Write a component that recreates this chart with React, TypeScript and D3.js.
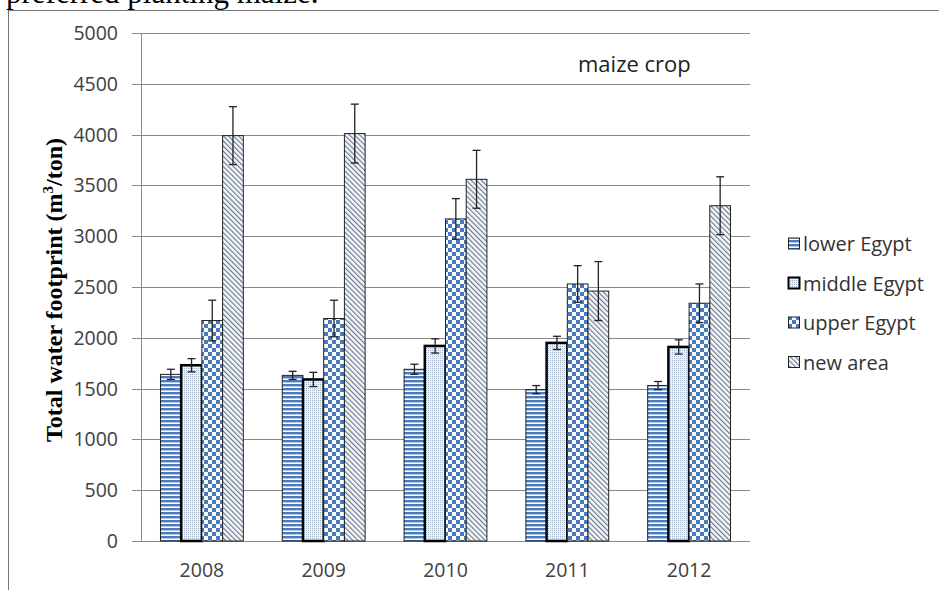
import React from 'react';
import * as d3 from 'd3';

const years = ['2008', '2009', '2010', '2011', '2012'];
const seriesNames = ['lower Egypt', 'middle Egypt', 'upper Egypt', 'new area'];
const lowerEgypt = [1640, 1630, 1690, 1490, 1530];
const lowerErr = [50, 40, 50, 40, 40];
const middleEgypt = [1730, 1590, 1920, 1950, 1910];
const middleErr = [65, 70, 70, 65, 70];
const upperEgypt = [2170, 2190, 3170, 2530, 2340];
const upperErr = [200, 180, 200, 180, 190];
const newArea = [3990, 4010, 3560, 2460, 3300];
const newErr = [285, 290, 285, 290, 285];
const yTicks = [0, 500, 1000, 1500, 2000, 2500, 3000, 3500, 4000, 4500, 5000];

const seriesValues = [lowerEgypt, middleEgypt, upperEgypt, newArea];
const seriesErrors = [lowerErr, middleErr, upperErr, newErr];
const fills = ['url(#pLower)', 'url(#pMiddle)', 'url(#pUpper)', 'url(#pNew)'];
const strokeW = [1, 2.5, 1, 1];
const strokeC = ['#222', '#000', '#222', '#222'];

const W = 939;
const H = 590;
const left = 141;
const right = 750;
const top = 33;
const bottom = 541;

export default function App() {
  const y = d3.scaleLinear().domain([0, 5000]).range([bottom, top]);
  const x0 = d3.scaleBand().domain(years).range([left, right]).paddingInner(0.32).paddingOuter(0.16);
  const x1 = d3.scaleBand().domain(seriesNames).range([0, x0.bandwidth()]);
  const sans = '"Open Sans", sans-serif';
  const legendY = (i: number) => 244 + i * 39.5;

  return (
    <svg width={W} height={H} style={{ position: 'absolute', left: 0, top: 0, background: '#fff' }}>
      <defs>
        <pattern id="pLower" width="4" height="4" patternUnits="userSpaceOnUse">
          <rect width="4" height="4" fill="#fff" />
          <rect width="4" height="2.4" fill="#4a7bbd" />
        </pattern>
        <pattern id="pMiddle" width="2" height="2" patternUnits="userSpaceOnUse">
          <rect width="2" height="2" fill="#eef2f6" />
          <rect width="1" height="1" fill="#a9b9cb" />
        </pattern>
        <pattern id="pUpper" width="8" height="8" patternUnits="userSpaceOnUse">
          <rect width="8" height="8" fill="#fff" />
          <rect width="4" height="4" fill="#4a7bbd" />
          <rect x="4" y="4" width="4" height="4" fill="#4a7bbd" />
        </pattern>
        <pattern id="pNew" width="3.6" height="3.6" patternUnits="userSpaceOnUse" patternTransform="rotate(-45)">
          <rect width="3.6" height="3.6" fill="#f3f6fb" />
          <line x1="0.6" y1="0" x2="0.6" y2="3.6" stroke="#4a5a70" strokeWidth="0.9" />
        </pattern>
      </defs>

      {/* cropped caption from the source page */}
      <text x={6} y={3} fontFamily='"Liberation Serif", serif' fontSize={31} fill="#000">preferred planting maize.</text>
      {/* frame */}
      <line x1={8} y1={10.5} x2={W} y2={10.5} stroke="#777" strokeWidth={1} />
      <line x1={8.5} y1={10} x2={8.5} y2={H} stroke="#777" strokeWidth={1} />

      {/* gridlines */}
      {yTicks.map((t) => (
        <line key={t} x1={left - 9} x2={right} y1={Math.round(y(t)) + 0.5} y2={Math.round(y(t)) + 0.5} stroke="#8a8a8a" strokeWidth={1} />
      ))}
      <line x1={left + 0.5} x2={left + 0.5} y1={top} y2={bottom} stroke="#8a8a8a" strokeWidth={1} />

      {/* y tick labels */}
      {yTicks.map((t) => (
        <text key={t} x={118} y={y(t) + 7} textAnchor="end" fontFamily={sans} fontSize={19.5} fill="#404040">{t}</text>
      ))}

      {/* bars */}
      {seriesNames.map((s, si) => (
        <g key={s}>
          {years.map((yr, i) => {
            const v = seriesValues[si][i];
            const bx = (x0(yr) || 0) + (x1(s) || 0);
            const bw = x1.bandwidth();
            return (
              <rect key={yr} x={bx} y={y(v)} width={bw} height={bottom - y(v)} fill={fills[si]} stroke={strokeC[si]} strokeWidth={strokeW[si]} />
            );
          })}
        </g>
      ))}

      {/* error bars */}
      {seriesNames.map((s, si) => (
        <g key={s + 'e'} stroke="#222" strokeWidth={1.3}>
          {years.map((yr, i) => {
            const v = seriesValues[si][i];
            const e = seriesErrors[si][i];
            const cx = (x0(yr) || 0) + (x1(s) || 0) + x1.bandwidth() / 2;
            return (
              <g key={yr}>
                <line x1={cx} x2={cx} y1={y(v + e)} y2={y(v - e)} />
                <line x1={cx - 4} x2={cx + 4} y1={y(v + e)} y2={y(v + e)} />
                <line x1={cx - 4} x2={cx + 4} y1={y(v - e)} y2={y(v - e)} />
              </g>
            );
          })}
        </g>
      ))}

      {/* x labels */}
      {years.map((yr) => (
        <text key={yr} x={(x0(yr) || 0) + x0.bandwidth() / 2} y={577} textAnchor="middle" fontFamily={sans} fontSize={19.5} fill="#404040">{yr}</text>
      ))}

      {/* y axis title */}
      <text transform={`translate(62,290) rotate(-90)`} textAnchor="middle" fontFamily='"Liberation Serif", serif' fontWeight="bold" fontSize={24} fill="#000">
        Total water footprint (m<tspan dy={-9} fontSize={15}>3</tspan><tspan dy={9}>/ton)</tspan>
      </text>

      {/* chart title */}
      <text x={578} y={72} fontFamily={sans} fontSize={22} fill="#222">maize crop</text>

      {/* legend */}
      {seriesNames.map((s, si) => (
        <g key={s + 'l'}>
          <rect x={788.5} y={legendY(si) - 6} width={11} height={11} fill={fills[si]} stroke={strokeC[si]} strokeWidth={si === 1 ? 2 : 1} />
          <text x={803} y={legendY(si) + 7} fontFamily={sans} fontSize={20} fill="#333">{s}</text>
        </g>
      ))}
    </svg>
  );
}
